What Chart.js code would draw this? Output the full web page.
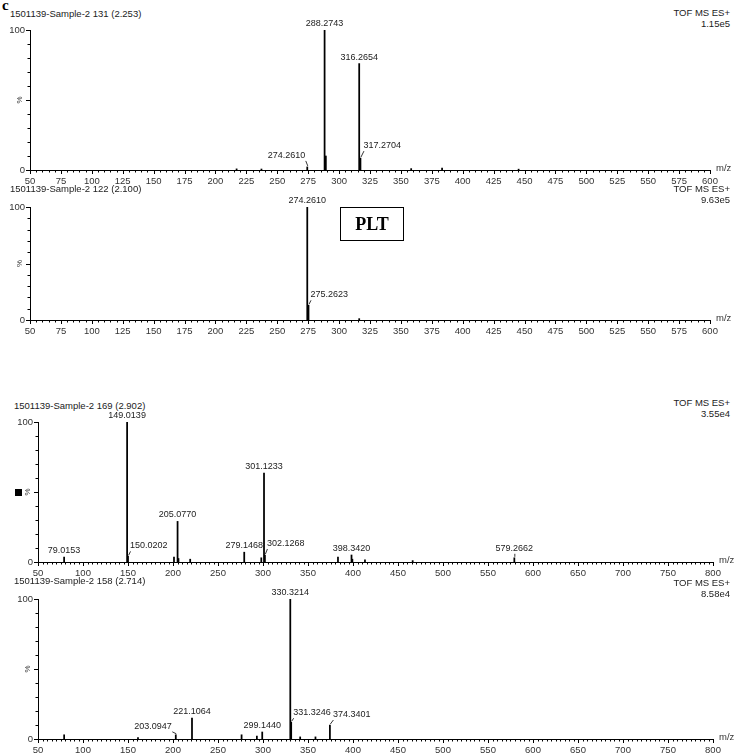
<!DOCTYPE html>
<html>
<head>
<meta charset="utf-8">
<script src="https://cdn.jsdelivr.net/npm/chart.js@4.4.1/dist/chart.umd.min.js"></script>
<style>
  body { margin: 0; background: #fff; }
  #wrap { position: relative; width: 738px; height: 753px; overflow: hidden;
          font-family: "Liberation Sans", Arial, sans-serif; color: #222; }
  canvas { position: absolute; left: 0; }
  .t { position: absolute; font-size: 9.5px; line-height: 11px; white-space: nowrap; }
  .r { right: 8px; text-align: right; }
  .c { position: absolute; left: 2px; top: -3px; font: bold 15px "Liberation Serif", serif; color: #000; }
  .plt { position: absolute; left: 340px; top: 207px; width: 62px; height: 32px; border: 1.5px solid #000;
         font: bold 18px "Liberation Serif", serif; color: #000; text-align: center; line-height: 32px; }
  .sq { position: absolute; left: 15px; top: 489px; width: 7px; height: 7px; background: #000; }
</style>
</head>
<body>
<div id="wrap">
  <div class="c">c</div>

  <div class="t" style="left:10px;top:8px">1501139-Sample-2 131 (2.253)</div>
  <div class="t r" style="top:7px">TOF MS ES+<br>1.15e5</div>
  <canvas id="ms1"></canvas>

  <div class="t" style="left:10px;top:183px">1501139-Sample-2 122 (2.100)</div>
  <div class="t r" style="top:183px">TOF MS ES+<br>9.63e5</div>
  <canvas id="ms2"></canvas>
  <div class="plt">PLT</div>

  <div class="t" style="left:14px;top:400px">1501139-Sample-2 169 (2.902)</div>
  <div class="t r" style="top:397px">TOF MS ES+<br>3.55e4</div>
  <canvas id="ms3"></canvas>
  <div class="sq"></div>

  <div class="t" style="left:14px;top:575px">1501139-Sample-2 158 (2.714)</div>
  <div class="t r" style="top:577px">TOF MS ES+<br>8.58e4</div>
  <canvas id="ms4"></canvas>
</div>

<script>
'use strict';

// spectrum 1: 1501139-Sample-2 131 (2.253)
const mz1 = [217.1, 237.2, 274.2610, 288.2743, 289.2776, 316.2654, 317.2704, 358.3, 383.3, 445.2];
const int1 = [0.8, 0.7, 2.2, 100, 10, 76, 8.5, 1, 1.3, 0.6];
const lab1 = ['274.2610', '288.2743', '316.2654', '317.2704'];

// spectrum 2: 1501139-Sample-2 122 (2.100)
const mz2 = [274.2610, 275.2623, 316.27];
const int2 = [100, 13, 1.2];
const lab2 = ['274.2610', '275.2623'];

// spectrum 3: 1501139-Sample-2 169 (2.902)
const mz3 = [79.0153, 149.0139, 150.0202, 201.1, 205.0770, 206.08, 219.1, 279.1468, 298.1,
             301.1233, 302.1268, 383.3, 398.3420, 399.3, 413.3, 466.3, 579.2662];
const int3 = [3.5, 100, 4, 3.5, 29, 2.5, 2, 7, 3, 63.5, 5, 3.5, 5, 2, 1.5, 1, 3];
const lab3 = ['79.0153', '149.0139', '150.0202', '205.0770', '279.1468', '301.1233',
              '302.1268', '398.3420', '579.2662'];

// spectrum 4: 1501139-Sample-2 158 (2.714)
const mz4 = [79.05, 161.1, 203.0947, 221.1064, 276.2, 293.2, 299.1440, 330.3214, 331.3246,
             341.3, 358.3, 374.3401];
const int4 = [3, 1, 3, 15, 3, 2, 5, 100, 12, 1.5, 1.5, 10];
const lab4 = ['203.0947', '221.1064', '299.1440', '330.3214', '331.3246', '374.3401'];

// label placement (pixels) for peaks whose label sits off to one side
const labStyle = {
  ms1: { '274.2610': { dx: -2, dy: 7, align: 'right', leader: true },
         '317.2704': { dx: 3, dy: 8, align: 'left', leader: true } },
  ms2: { '275.2623': { dx: 2, dy: 6, align: 'left', leader: true } },
  ms3: { '150.0202': { dx: 2, dy: 6, align: 'left', leader: true },
         '302.1268': { dx: 2, dy: 7, align: 'left', leader: true },
         '579.2662': { dx: 0, dy: 5, align: 'center', leader: true } },
  ms4: { '203.0947': { dx: -4, dy: 4, align: 'right', leader: true },
         '331.3246': { dx: 2, dy: 5, align: 'left', leader: true },
         '374.3401': { dx: 3, dy: 6, align: 'left', leader: true } },
};

Chart.defaults.font.family = '"Liberation Sans", Arial, sans-serif';
Chart.defaults.font.size = 9.5;
Chart.defaults.color = '#222';

const PT = 16, XH = 20, YW = 30;

const decor = {
  id: 'decor',
  afterDraw(chart, args, o) {
    const { ctx, chartArea: a, scales: { x, y } } = chart;
    ctx.save();
    ctx.strokeStyle = '#000';
    ctx.lineWidth = 1;
    ctx.beginPath();
    for (let v = o.xMin; v <= o.xMax; v += 5) {
      const px = Math.round(x.getPixelForValue(v)) + 0.5;
      const len = v % o.major === 0 ? 4 : 2.5;
      ctx.moveTo(px, a.bottom);
      ctx.lineTo(px, a.bottom + len);
    }
    for (let v = 0; v <= 100; v += 10) {
      const py = Math.round(y.getPixelForValue(v)) + 0.5;
      const len = v % 50 === 0 ? 4 : 2.5;
      ctx.moveTo(a.left - len, py);
      ctx.lineTo(a.left, py);
    }
    ctx.stroke();

    ctx.fillStyle = '#333';
    ctx.font = '9.5px "Liberation Sans", Arial, sans-serif';
    // rotated % on the intensity axis
    ctx.save();
    ctx.translate(a.left - 10, y.getPixelForValue(50));
    ctx.rotate(-Math.PI / 2);
    ctx.textAlign = 'center';
    ctx.textBaseline = 'middle';
    ctx.font = '8px "Liberation Sans", Arial, sans-serif';
    ctx.fillText('%', 0, 0);
    ctx.restore();

    ctx.textAlign = 'left';
    ctx.textBaseline = 'bottom';
    ctx.fillText('m/z', a.right + 6, a.bottom + 3);

    // peak labels
    ctx.fillStyle = '#222';
    ctx.font = '9px "Liberation Sans", Arial, sans-serif';
    const data = chart.data.datasets[0].data;
    const st = labStyle[chart.canvas.id] || {};
    ctx.beginPath();
    data.forEach(d => {
      const txt = d.x.toFixed(4);
      if (!o.labels.includes(txt)) return;
      const px = x.getPixelForValue(d.x);
      const top = y.getPixelForValue(d.y);
      const s = st[txt] || { dx: 0, dy: 2, align: 'center', leader: false };
      ctx.textAlign = s.align;
      ctx.fillText(txt, px + s.dx, top - s.dy);
      if (s.leader) {
        ctx.moveTo(px + 0.5, top - 1);
        ctx.lineTo(px + s.dx + 0.5, top - s.dy + 1);
      }
    });
    ctx.lineWidth = 0.8;
    ctx.stroke();
    ctx.restore();
  }
};

function spectrum(id, mz, inten, labels, g) {
  const cv = document.getElementById(id);
  cv.width = 738;
  cv.height = PT + (g.yBot - g.yTop) + XH;
  cv.style.top = (g.yTop - PT) + 'px';
  return new Chart(cv, {
    type: 'bar',
    data: {
      datasets: [{
        data: mz.map((m, i) => ({ x: m, y: inten[i] })),
        backgroundColor: '#000',
        borderWidth: 0,
        barThickness: 1.1,
      }],
    },
    options: {
      responsive: false,
      animation: false,
      devicePixelRatio: 1,
      layout: { padding: { left: g.x0 - YW, right: 738 - g.x1, top: PT, bottom: 0 } },
      plugins: {
        legend: { display: false },
        tooltip: { enabled: false },
        decor: { xMin: g.xMin, xMax: g.xMax, major: g.step, labels },
      },
      scales: {
        x: {
          type: 'linear',
          min: g.xMin,
          max: g.xMax,
          offset: false,
          grid: { display: false, drawTicks: false, offset: false },
          border: { display: true, color: '#000', width: 1 },
          ticks: { stepSize: g.step, autoSkip: false, maxRotation: 0, padding: 6, color: '#333' },
          afterFit(s) { s.height = XH; s.paddingLeft = 0; s.paddingRight = 0; },
        },
        y: {
          min: 0,
          max: 100,
          grid: { display: false, drawTicks: false },
          border: { display: true, color: '#000', width: 1 },
          ticks: { stepSize: 50, padding: 5, color: '#333',
                   callback: v => (v === 50 ? '' : String(v)) },
          afterFit(s) { s.width = YW; s.paddingTop = 0; s.paddingBottom = 0; },
        },
      },
    },
    plugins: [decor],
  });
}

spectrum('ms1', mz1, int1, lab1, { x0: 30, x1: 710, yTop: 30, yBot: 170, xMin: 50, xMax: 600, step: 25 });
spectrum('ms2', mz2, int2, lab2, { x0: 30, x1: 710, yTop: 207, yBot: 320, xMin: 50, xMax: 600, step: 25 });
spectrum('ms3', mz3, int3, lab3, { x0: 38, x1: 713, yTop: 422, yBot: 562, xMin: 50, xMax: 800, step: 50 });
spectrum('ms4', mz4, int4, lab4, { x0: 38, x1: 713, yTop: 599, yBot: 739, xMin: 50, xMax: 800, step: 50 });
</script>
</body>
</html>
